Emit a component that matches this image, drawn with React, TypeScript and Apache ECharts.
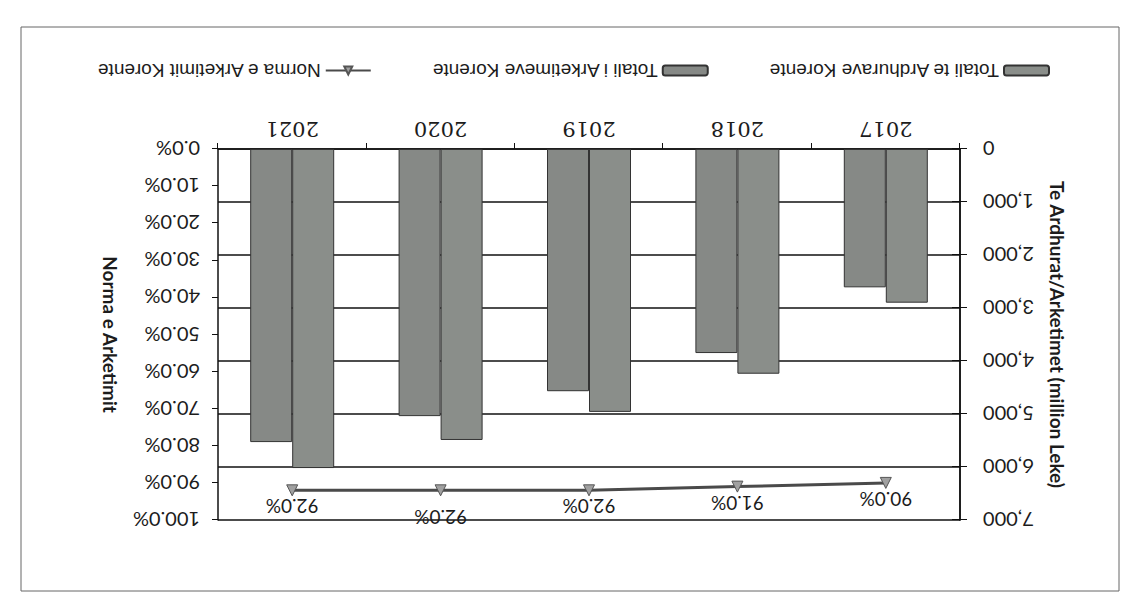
import React, { useEffect, useRef } from "react";
import * as echarts from "echarts";

const years = ["2017", "2018", "2019", "2020", "2021"];
const revenue = [2900, 4240, 4960, 5490, 6020];
const collections = [2610, 3850, 4570, 5040, 5530];
const rate = [90.0, 91.0, 92.0, 92.0, 92.0];

const seriesNames = [
  "Totali te Ardhurave Korente",
  "Totali i Arketimeve Korente",
  "Norma e Arketimit Korente",
];

export default function App() {
  const ref = useRef<HTMLDivElement>(null);
  useEffect(() => {
    if (!ref.current) return;
    const chart = echarts.init(ref.current, null, { renderer: "svg" });
    const ink = "#1c1c1c";
    const labelFont = { fontFamily: "Lato", fontSize: 20, color: ink };
    chart.setOption({
      animation: false,
      backgroundColor: "#ffffff",
      graphic: [
        {
          type: "rect",
          shape: { x: 10, y: 16, width: 1098, height: 564 },
          style: { fill: "none", stroke: "#666", lineWidth: 1 },
          silent: true,
        },
      ],
      grid: { left: 169, right: 218, top: 87, bottom: 149, containLabel: false },
      legend: {
        data: seriesNames,
        left: 74,
        top: 522,
        itemWidth: 45,
        itemHeight: 10,
        itemGap: 60,
        textStyle: { fontFamily: "Liberation Sans", fontSize: 19, color: ink },
      },
      xAxis: {
        type: "category",
        data: years,
        axisLine: { lineStyle: { color: "#111", width: 1.5 } },
        axisTick: { show: true, length: 6, lineStyle: { color: "#111" } },
        axisLabel: { fontFamily: "DejaVu Serif", fontSize: 21, color: ink, margin: 10 },
      },
      yAxis: [
        {
          type: "value",
          min: 0,
          max: 7000,
          interval: 1000,
          position: "left",
          name: "Te Ardhurat/Arketimet (million Leke)",
          nameLocation: "middle",
          nameRotate: 90,
          nameGap: 88,
          nameTextStyle: { fontFamily: "Lato", fontSize: 19, fontWeight: "bold", color: ink },
          axisLine: { show: true, lineStyle: { color: "#111", width: 1.5 } },
          axisTick: { show: true, length: 7, lineStyle: { color: "#111" } },
          axisLabel: {
            ...labelFont,
            margin: 23,
            formatter: (v: number) => v.toLocaleString("en-US"),
          },
          splitLine: { show: true, lineStyle: { color: "#111", width: 1.5 } },
        },
        {
          type: "value",
          min: 0,
          max: 100,
          interval: 10,
          position: "right",
          name: "Norma e Arketimit",
          nameLocation: "middle",
          nameRotate: 90,
          nameGap: 98,
          nameTextStyle: { fontFamily: "Lato", fontSize: 19, fontWeight: "bold", color: ink },
          axisLine: { show: true, lineStyle: { color: "#111", width: 1.5 } },
          axisTick: { show: true, length: 6, lineStyle: { color: "#111" } },
          axisLabel: {
            ...labelFont,
            margin: 18,
            formatter: (v: number) => v.toFixed(1) + "%",
          },
          splitLine: { show: false },
        },
        {
          type: "value",
          min: 0,
          max: 7000,
          interval: 1000,
          position: "left",
          axisLine: { show: true, lineStyle: { color: "#111", width: 1.5 } },
          axisTick: { show: true, inside: true, length: 8, lineStyle: { color: "#111" } },
          axisLabel: { show: false },
          splitLine: { show: false },
        },
      ],
      series: [
        {
          name: seriesNames[0],
          type: "bar",
          yAxisIndex: 0,
          data: revenue,
          barWidth: 42,
          barGap: "0%",
          itemStyle: { color: "#8a8e8a", borderColor: "#333", borderWidth: 1 },
        },
        {
          name: seriesNames[1],
          type: "bar",
          yAxisIndex: 0,
          data: collections,
          barWidth: 42,
          barGap: "0%",
          itemStyle: { color: "#868986", borderColor: "#333", borderWidth: 1 },
        },
        {
          name: seriesNames[2],
          type: "line",
          yAxisIndex: 1,
          data: rate.map((v, i) =>
            i === 3 ? { value: v, label: { offset: [0, -11] } } : v
          ),
          symbol: "triangle",
          symbolSize: 11,
          lineStyle: { color: "#4a4a4a", width: 3 },
          itemStyle: { color: "#a0a0a0", borderColor: "#555", borderWidth: 1 },
          label: {
            show: true,
            position: "top",
            distance: 1,
            fontFamily: "Lato",
            fontSize: 19,
            color: ink,
            formatter: (p: any) => Number(p.value).toFixed(1) + "%",
          },
        },
      ],
    });
    return () => chart.dispose();
  }, []);
  return (
    <div
      style={{
        position: "absolute",
        left: 0,
        top: 0,
        width: 1129,
        height: 607,
        background: "#ffffff",
        transform: "rotate(180deg)",
      }}
    >
      <div ref={ref} style={{ width: 1129, height: 607 }} />
    </div>
  );
}
